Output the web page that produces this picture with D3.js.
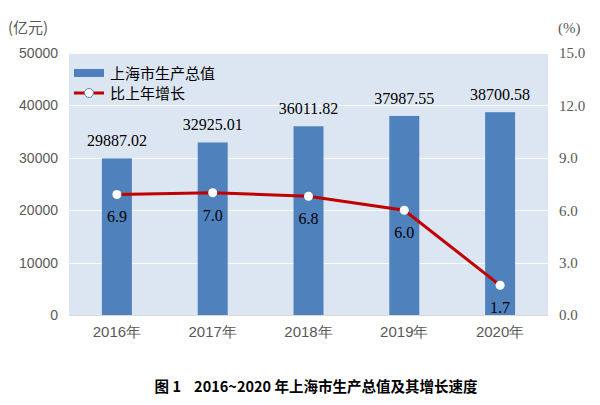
<!DOCTYPE html>
<html><head><meta charset="utf-8">
<script src="https://cdn.jsdelivr.net/npm/d3@7"></script>
<style>body{margin:0;background:#fff}svg{display:block}</style>
</head><body>
<svg id="c" width="600" height="405"></svg>
<script>
const years = ["2016年","2017年","2018年","2019年","2020年"];
const gdp = [29887.02, 32925.01, 36011.82, 37987.55, 38700.58];
const growth = [6.9, 7.0, 6.8, 6.0, 1.7];
const leftTicks = [0,10000,20000,30000,40000,50000];
const rightTicks = [0,3,6,9,12,15];

const svg = d3.select("#c");
const m = {l:69, r:548, t:53, b:315};
const x = d3.scaleBand().domain(years).range([m.l, m.r]);
const yL = d3.scaleLinear().domain([0,50000]).range([m.b, m.t]);
const yR = d3.scaleLinear().domain([0,15]).range([m.b, m.t]);
const sans = "'Liberation Sans', Arial, sans-serif";
const serif = "'Liberation Serif', 'Times New Roman', serif";
const cjk = "'Noto Sans CJK SC', sans-serif";

svg.append("rect").attr("x",m.l).attr("y",m.t).attr("width",m.r-m.l).attr("height",m.b-m.t).attr("fill","#DCE6F2");
svg.append("g").selectAll("line").data(leftTicks.slice(1)).join("line")
  .attr("x1",m.l).attr("x2",m.r).attr("y1",d=>Math.round(yL(d))+0.5).attr("y2",d=>Math.round(yL(d))+0.5)
  .attr("stroke","#fff").attr("stroke-width",1.2);
svg.append("line").attr("x1",m.l).attr("x2",m.r).attr("y1",m.b+0.5).attr("y2",m.b+0.5).attr("stroke","#D9D9D9");

// left axis
const gl = svg.append("g").attr("transform",`translate(${m.l},0)`)
  .call(d3.axisLeft(yL).tickValues(leftTicks).tickSize(0).tickPadding(11).tickFormat(d3.format("d")));
gl.select(".domain").remove();
gl.selectAll("text").attr("font-family",sans).attr("font-size",14).attr("fill","#595959");
// right axis
const gr = svg.append("g").attr("transform",`translate(${m.r},0)`)
  .call(d3.axisRight(yR).tickValues(rightTicks).tickSize(0).tickPadding(11).tickFormat(d3.format(".1f")));
gr.select(".domain").remove();
gr.selectAll("text").attr("font-family",serif).attr("font-size",15).attr("fill","#595959");
// x axis
const gx = svg.append("g").attr("transform",`translate(0,${m.b})`)
  .call(d3.axisBottom(x).tickSize(0).tickPadding(11));
gx.select(".domain").remove();
gx.selectAll("text").attr("font-family",sans).attr("font-size",15).attr("fill","#595959");

// bars
const bw = 30;
svg.append("g").selectAll("rect").data(gdp).join("rect")
  .attr("x",(d,i)=>x(years[i])+x.bandwidth()/2-bw/2).attr("width",bw)
  .attr("y",d=>yL(d)).attr("height",d=>m.b-yL(d)).attr("fill","#4F81BD");
svg.append("g").selectAll("text").data(gdp).join("text")
  .attr("x",(d,i)=>x(years[i])+x.bandwidth()/2).attr("y",d=>yL(d)-12)
  .attr("text-anchor","middle").attr("font-family",serif).attr("font-size",16).attr("fill","#000")
  .text(d=>d.toFixed(2));

// line
const cx = (d,i)=>x(years[i])+x.bandwidth()/2;
svg.append("path").datum(growth)
  .attr("d",d3.line().x(cx).y(d=>yR(d)))
  .attr("fill","none").attr("stroke","#C00000").attr("stroke-width",3);
svg.append("g").selectAll("circle").data(growth).join("circle")
  .attr("cx",cx).attr("cy",d=>yR(d)).attr("r",4.5).attr("fill","#fff");
svg.append("g").selectAll("text").data(growth).join("text")
  .attr("x",cx).attr("y",d=>yR(d)+28)
  .attr("text-anchor","middle").attr("font-family",serif).attr("font-size",16).attr("fill","#000")
  .text(d=>d.toFixed(1));

// legend
svg.append("rect").attr("x",74).attr("y",69).attr("width",30).attr("height",8).attr("fill","#4F81BD");
svg.append("text").attr("x",110).attr("y",79).attr("font-family",cjk).attr("font-size",15).attr("fill","#000").text("上海市生产总值");
svg.append("line").attr("x1",74).attr("x2",104).attr("y1",93).attr("y2",93).attr("stroke","#C00000").attr("stroke-width",3);
svg.append("circle").attr("cx",89).attr("cy",93).attr("r",4.5).attr("fill","#fff").attr("stroke","#4F81BD").attr("stroke-width",1);
svg.append("text").attr("x",110).attr("y",99).attr("font-family",cjk).attr("font-size",15).attr("fill","#000").text("比上年增长");

// units
svg.append("text").attr("x",8).attr("y",33).attr("font-family",cjk).attr("font-size",15).attr("fill","#595959").text("(亿元)");
svg.append("text").attr("x",558).attr("y",33).attr("font-family",serif).attr("font-size",15).attr("fill","#595959").text("(%)");

// title
svg.append("text").attr("x",316).attr("y",392).attr("text-anchor","middle").attr("font-family",cjk)
  .attr("font-size",14.5).attr("font-weight","bold").attr("fill","#000").attr("xml:space","preserve")
  .text("图 1    2016~2020 年上海市生产总值及其增长速度");
</script></body></html>
